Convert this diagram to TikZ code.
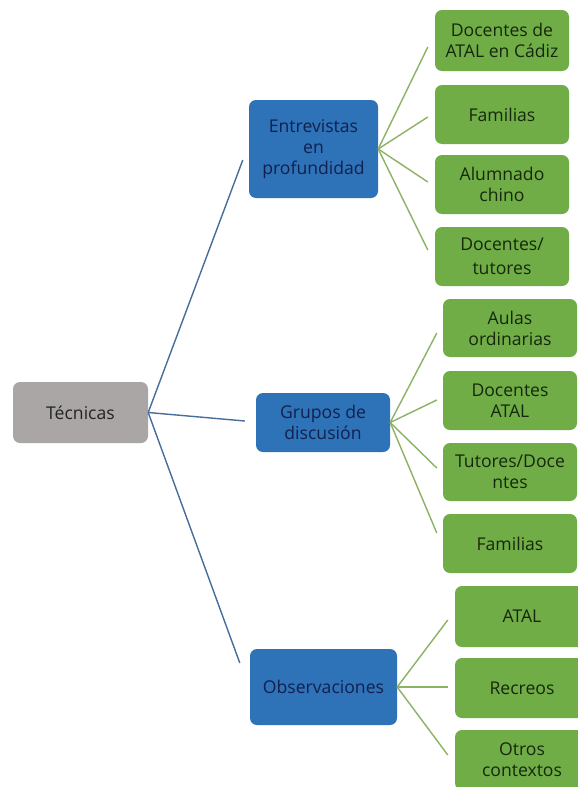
\documentclass[tikz,border=0pt]{standalone}
\usepackage{fontspec}
\setmainfont{Open Sans}
\usetikzlibrary{calc}
\definecolor{graybox}{RGB}{170,166,166}
\definecolor{bluebox}{RGB}{46,114,184}
\definecolor{greenbox}{RGB}{112,173,71}
\definecolor{bluetext}{RGB}{18,32,78}
\definecolor{greentext}{RGB}{22,40,12}
\definecolor{graytext}{RGB}{35,35,35}
\definecolor{blueline}{RGB}{72,108,155}
\definecolor{greenline}{RGB}{140,178,100}
\begin{document}
\begin{tikzpicture}[x=1pt,y=-1pt,
  base/.style={rectangle, rounded corners=7pt, align=center, inner sep=0pt,
    font=\fontsize{17.6}{21}\selectfont},
  rootbox/.style={base, fill=graybox, text=graytext},
  midbox/.style={base, fill=bluebox, text=bluetext},
  leafbox/.style={base, fill=greenbox, text=greentext, minimum width=134pt},
  blueconn/.style={draw=blueline, line width=1.4pt},
  greenconn/.style={draw=greenline, line width=1.4pt}]
\fill[white] (0,0) rectangle (578,787);
\useasboundingbox (0,0) rectangle (578,787);

% root
\node[rootbox, minimum width=135pt, minimum height=61pt] (tec) at (80.5,412.5) {Técnicas};

% middle
\node[midbox, minimum width=129pt, minimum height=98pt] (ent) at (313.5,149) {Entrevistas\\en\\profundidad};
\node[midbox, minimum width=134pt, minimum height=59pt] (gru) at (323,422.5) {Grupos de\\discusión};
\node[midbox, minimum width=147pt, minimum height=76pt] (obs) at (323.5,687) {Observaciones};

% leaves of Entrevistas
\node[leafbox, minimum height=61pt] (e1) at (502,40.5) {Docentes de\\ATAL en Cádiz};
\node[leafbox, minimum height=59pt] (e2) at (502,114.5) {Familias};
\node[leafbox, minimum height=59pt] (e3) at (502,184.5) {Alumnado\\chino};
\node[leafbox, minimum height=59pt, font=\fontsize{17.6}{24}\selectfont] (e4) at (502,256.5) {Docentes/\\tutores};

% leaves of Grupos
\node[leafbox, minimum height=58pt] (g1) at (510,328) {Aulas\\ordinarias};
\node[leafbox, minimum height=59pt] (g2) at (510,400.5) {Docentes\\ATAL};
\node[leafbox, minimum height=58pt] (g3) at (510,472) {Tutores/Doce\\ntes};
\node[leafbox, minimum height=59pt] (g4) at (510,543.5) {Familias};

% leaves of Observaciones
\node[leafbox, minimum height=61pt] (o1) at (522,616.5) {ATAL};
\node[leafbox, minimum height=60pt] (o2) at (522,688) {Recreos};
\node[leafbox, minimum height=60pt] (o3) at (522,760) {Otros\\contextos};

% blue connectors
\draw[blueconn] (tec.east) -- ($(ent.west)+(-6,11)$);
\draw[blueconn] (tec.east) -- ($(gru.west)+(-11,-1.5)$);
\draw[blueconn] (tec.east) -- ($(obs.west)+(-10,-24)$);

% green connectors
\draw[greenconn] (ent.east) -- ($(e1.west)+(-7,6.5)$);
\draw[greenconn] (ent.east) -- ($(e2.west)+(-7,2.5)$);
\draw[greenconn] (ent.east) -- ($(e3.west)+(-7,-2.5)$);
\draw[greenconn] (ent.east) -- ($(e4.west)+(-7,-6.5)$);

\draw[greenconn] (gru.east) -- ($(g1.west)+(-6,5)$);
\draw[greenconn] (gru.east) -- ($(g2.west)+(-6,-0.5)$);
\draw[greenconn] (gru.east) -- ($(g3.west)+(-6,-4)$);
\draw[greenconn] (gru.east) -- ($(g4.west)+(-6,-10.5)$);

\draw[greenconn] (obs.east) -- ($(o1.west)+(-7,3.5)$);
\draw[greenconn] (obs.east) -- ($(o2.west)+(-7,-1)$);
\draw[greenconn] (obs.east) -- ($(o3.west)+(-7,-5)$);
\end{tikzpicture}
\end{document}
